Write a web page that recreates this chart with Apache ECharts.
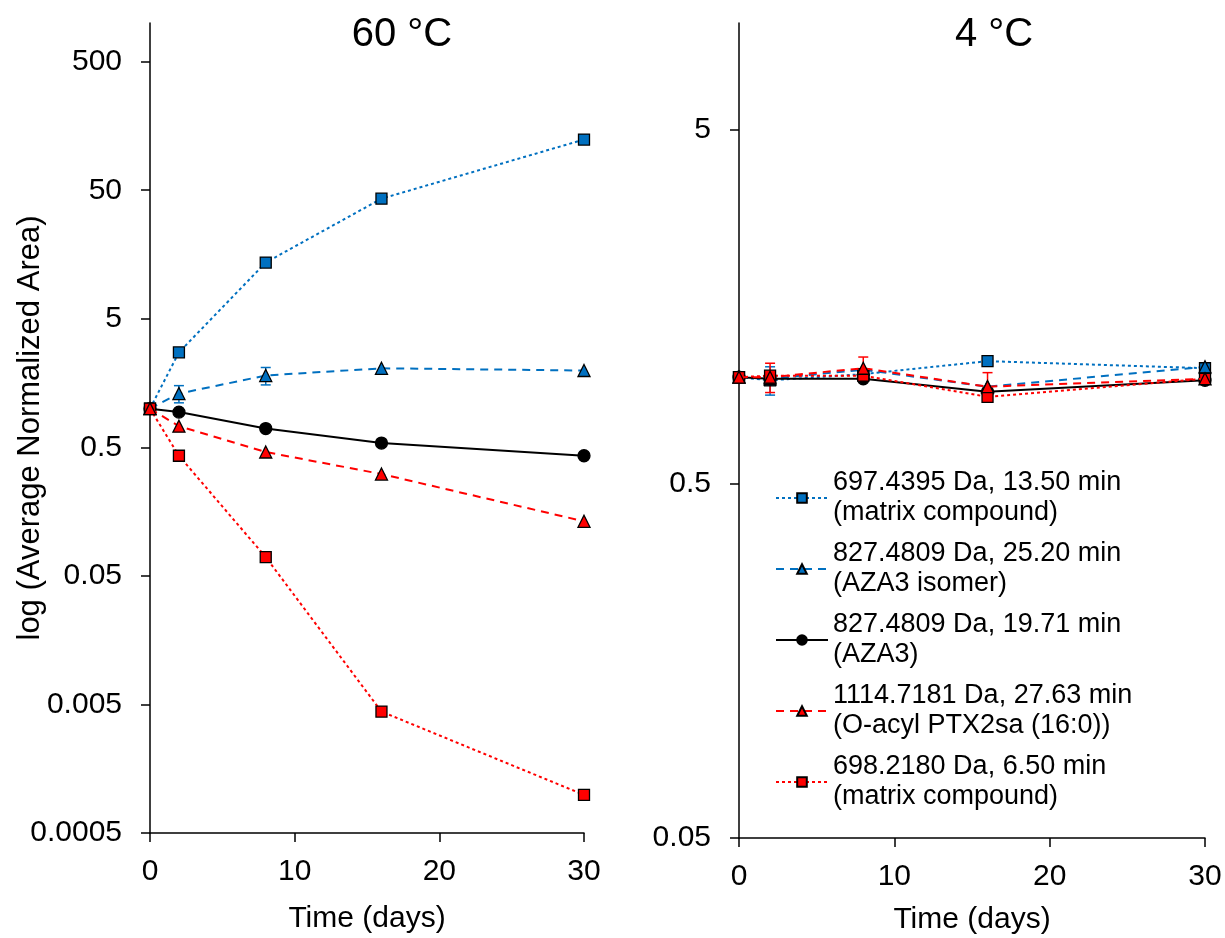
<!DOCTYPE html>
<html>
<head>
<meta charset="utf-8">
<script src="https://cdn.jsdelivr.net/npm/echarts@6/dist/echarts.min.js"></script>
<style>
html,body{margin:0;padding:0;background:#fff;}
#chart{width:1225px;height:938px;}
</style>
</head>
<body>
<div id="chart"></div>
<script>
// ---------- data ----------
const days = [0, 2, 8, 16, 30];
const seriesNames = [
  '697.4395 Da, 13.50 min\n(matrix compound)',
  '827.4809 Da, 25.20 min\n(AZA3 isomer)',
  '827.4809 Da, 19.71 min\n(AZA3)',
  '1114.7181 Da, 27.63 min\n(O-acyl PTX2sa (16:0))',
  '698.2180 Da, 6.50 min\n(matrix compound)'
];
const panelTitles = ['60 °C', '4 °C'];
// 60 °C panel
const hot697 = [1.0, 2.74, 13.7, 43, 124];
const hot827iso = [1.0, 1.31, 1.81, 2.06, 1.98];
const hot827aza3 = [1.0, 0.94, 0.70, 0.54, 0.43];
const hot1114 = [1.0, 0.73, 0.46, 0.31, 0.133];
const hot698 = [1.0, 0.43, 0.070, 0.0044, 0.00099];
const hotErr827iso = [0, 0.2, 0.28, 0, 0];
// 4 °C panel
const cold697 = [1.0, 0.98, 1.02, 1.11, 1.06];
const cold827iso = [1.0, 0.99, 1.05, 0.94, 1.07];
const cold827aza3 = [1.0, 0.99, 0.99, 0.91, 0.98];
const cold1114 = [1.0, 1.0, 1.06, 0.94, 0.99];
const cold698 = [1.0, 1.01, 1.01, 0.88, 0.99];
const coldErr697 = [0, 0.09, 0, 0, 0];
const coldErr1114 = [0, 0.095, 0.08, 0.09, 0];
// tick values
const hotTicks = [0.0005, 0.005, 0.05, 0.5, 5, 50, 500];
const coldTicks = [0.05, 0.5, 5];
const xTicks = [0, 10, 20, 30];

// ---------- styles ----------
const FONT = '"Liberation Sans", Arial, sans-serif';
const BLUE = '#0070C0';
const RED = '#FF0000';
const styles = [
  {color: BLUE, symbol: 'rect', size: 11, dash: [3, 3], width: 2},
  {color: BLUE, symbol: 'triangle', size: 12, dash: [8, 6], width: 2},
  {color: '#000000', symbol: 'circle', size: 12, dash: 'solid', width: 2},
  {color: RED, symbol: 'triangle', size: 12, dash: [8, 6], width: 2},
  {color: RED, symbol: 'rect', size: 11, dash: [3, 3], width: 2}
];
const hotSets = [hot697, hot827iso, hot827aza3, hot1114, hot698];
const coldSets = [cold697, cold827iso, cold827aza3, cold1114, cold698];

function pairs(vals) { return days.map((d, i) => [d, vals[i]]); }
function fmt(v) { return String(+Number(v).toPrecision(6)); }

function lineSeries(idx, sets) {
  return sets.map((vals, i) => ({
    type: 'line',
    name: seriesNames[i],
    xAxisIndex: idx, yAxisIndex: idx,
    data: pairs(vals),
    symbol: styles[i].symbol,
    symbolSize: styles[i].size,
    z: i === 3 ? 4 : 2,
    itemStyle: {color: styles[i].color, borderColor: '#000', borderWidth: 1.3},
    lineStyle: {color: styles[i].color, width: styles[i].width, type: styles[i].dash},
    emphasis: {disabled: true},
    animation: false
  }));
}

function errSeries(idx, vals, errs, color) {
  const d = [];
  days.forEach((x, i) => { if (errs[i] > 0) d.push([x, vals[i], vals[i] - errs[i], vals[i] + errs[i]]); });
  return {
    type: 'custom',
    xAxisIndex: idx, yAxisIndex: idx,
    data: d,
    z: 1,
    animation: false,
    silent: true,
    renderItem: function (params, api) {
      const x = api.value(0);
      const lo = api.coord([x, api.value(2)]);
      const hi = api.coord([x, api.value(3)]);
      const w = 5;
      const st = {stroke: color, lineWidth: 1.5};
      return {
        type: 'group',
        children: [
          {type: 'line', shape: {x1: lo[0], y1: lo[1], x2: hi[0], y2: hi[1]}, style: st},
          {type: 'line', shape: {x1: lo[0] - w, y1: lo[1], x2: lo[0] + w, y2: lo[1]}, style: st},
          {type: 'line', shape: {x1: hi[0] - w, y1: hi[1], x2: hi[0] + w, y2: hi[1]}, style: st}
        ]
      };
    }
  };
}

const axisLine = {show: true, onZero: false, lineStyle: {color: '#000', width: 1.5}};
const axisTick = {show: true, inside: false, length: 9, lineStyle: {color: '#000', width: 1.5}};

function xAxis(idx, gap) {
  return {
    type: 'value', gridIndex: idx, min: 0, max: 30, interval: 10,
    name: 'Time (days)', nameLocation: 'middle', nameGap: gap, nameMoveOverlap: false,
    nameTextStyle: {fontFamily: FONT, fontSize: 30, color: '#000'},
    axisLine: axisLine, axisTick: axisTick,
    axisLabel: {fontFamily: FONT, fontSize: 30, color: '#000', margin: 24,
      customValues: xTicks, formatter: fmt},
    splitLine: {show: false}
  };
}
function yAxis(idx, min, max, ticks, name) {
  return {
    type: 'log', logBase: 10, gridIndex: idx, min: min, max: max,
    name: name, nameLocation: 'middle', nameGap: 104, nameMoveOverlap: false,
    nameTextStyle: {fontFamily: FONT, fontSize: 31, color: '#000'},
    axisLine: axisLine,
    axisTick: Object.assign({customValues: ticks}, axisTick),
    axisLabel: {fontFamily: FONT, fontSize: 30, color: '#000', margin: 28,
      customValues: ticks, formatter: fmt},
    splitLine: {show: false},
    minorTick: {show: false}
  };
}

const option = {
  backgroundColor: '#fff',
  animation: false,
  title: [
    {text: panelTitles[0], left: 397, top: 10, textAlign: 'center',
      textStyle: {fontFamily: FONT, fontSize: 40, fontWeight: 'normal', color: '#000'}},
    {text: panelTitles[1], left: 989, top: 10, textAlign: 'center',
      textStyle: {fontFamily: FONT, fontSize: 40, fontWeight: 'normal', color: '#000'}}
  ],
  grid: [
    {left: 150, right: 641, top: 23, bottom: 105, containLabel: false, outerBoundsMode: 'none'},
    {left: 739, right: 20, top: 23, bottom: 100, containLabel: false, outerBoundsMode: 'none'}
  ],
  xAxis: [xAxis(0, 71), xAxis(1, 67)],
  yAxis: [
    yAxis(0, 0.0005, 1000, hotTicks, 'log (Average Normalized Area)'),
    yAxis(1, 0.05, 10, coldTicks, '')
  ],
  legend: {
    orient: 'vertical',
    left: 775, top: 453,
    padding: 0,
    itemWidth: 52, itemHeight: 12, itemGap: -19,
    selectedMode: false,
    data: seriesNames,
    textStyle: {fontFamily: FONT, fontSize: 27, color: '#000', lineHeight: 30, padding: [30, 0, 0, 0]}
  },
  series: [].concat(
    lineSeries(0, hotSets),
    lineSeries(1, coldSets),
    [errSeries(0, hot827iso, hotErr827iso, BLUE),
     errSeries(1, cold697, coldErr697, BLUE),
     errSeries(1, cold1114, coldErr1114, RED)]
  )
};

const chart = echarts.init(document.getElementById('chart'), null, {renderer: 'canvas'});
chart.setOption(option);
</script>
</body>
</html>
